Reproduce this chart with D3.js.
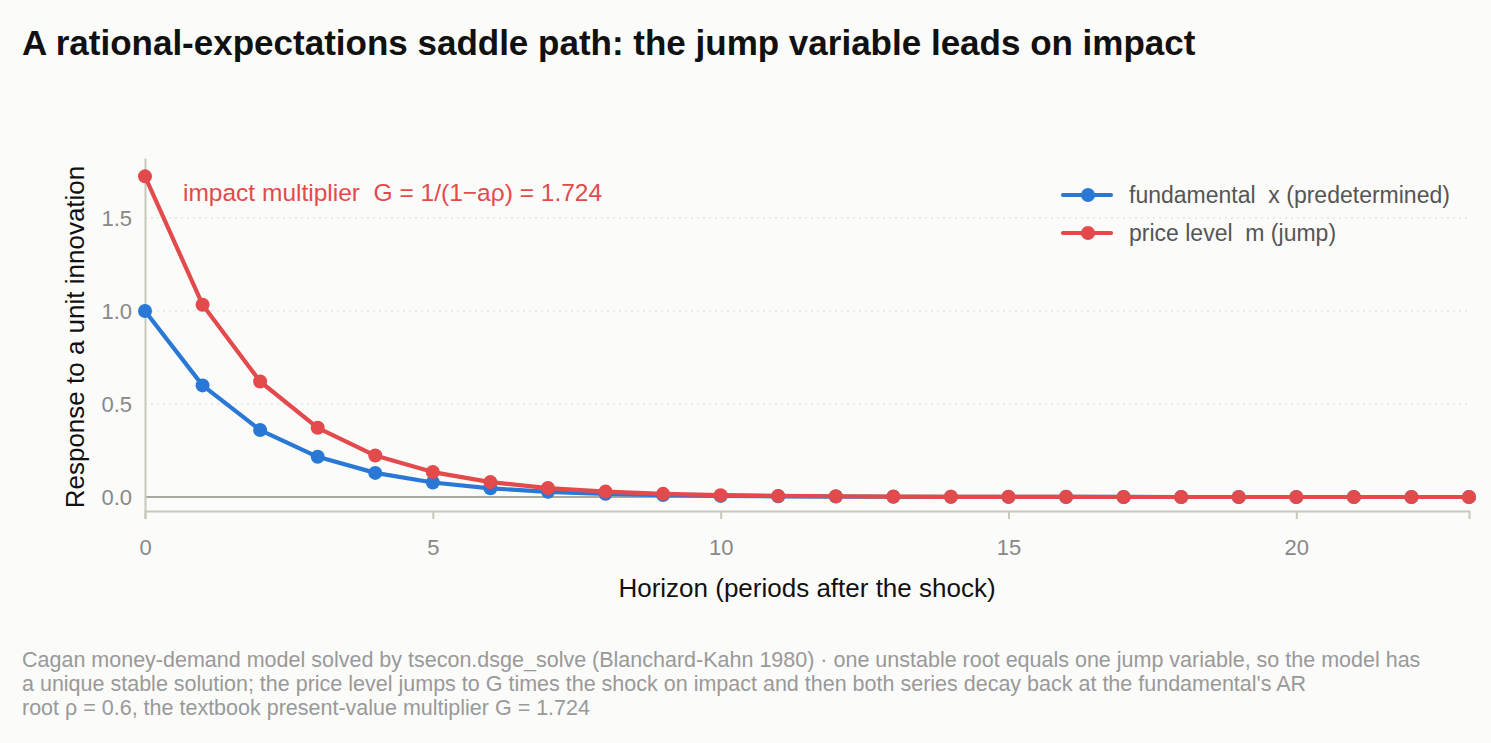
<!DOCTYPE html>
<html><head><meta charset="utf-8">
<script src="https://cdn.jsdelivr.net/npm/d3@7"></script>
<style>
html,body{margin:0;padding:0;background:#fbfbf9;}
svg{display:block;font-family:"Liberation Sans",Arial,Helvetica,sans-serif;}
text{white-space:pre;}
</style></head>
<body><svg id="c" width="1491" height="743"></svg>
<script>
const horizons = d3.range(0, 24);
const fundamentalX = [1.0, 0.6, 0.36, 0.216, 0.1296, 0.0778, 0.0467, 0.028, 0.0168, 0.0101, 0.006, 0.0036, 0.0022, 0.0013, 0.0008, 0.0005, 0.0003, 0.0002, 0.0001, 0.0001, 0.0, 0.0, 0.0, 0.0];
const priceM = [1.724, 1.034, 0.621, 0.372, 0.223, 0.134, 0.080, 0.048, 0.029, 0.017, 0.010, 0.006, 0.004, 0.002, 0.001, 0.001, 0.001, 0.0, 0.0, 0.0, 0.0, 0.0, 0.0, 0.0];
const xTicks = [0, 5, 10, 15, 20];
const yTicks = [0.0, 0.5, 1.0, 1.5];
const seriesNames = ["fundamental  x (predetermined)", "price level  m (jump)"];
const seriesColors = ["#2a78d6", "#e24a4c"];

const svg = d3.select("#c");
const L = 145, R = 1469, T = 158, B = 511;
const x = d3.scaleLinear().domain([0, 23]).range([L, R]);
const y = d3.scaleLinear().domain([-0.0753, 1.8226]).range([B, T]);

svg.append("text").attr("x", 22).attr("y", 55).attr("font-size", 35).attr("font-weight", "bold").attr("fill", "#111")
  .text("A rational-expectations saddle path: the jump variable leads on impact");

// grid
svg.append("g").selectAll("line").data(yTicks.filter(d => d > 0)).join("line")
  .attr("x1", L).attr("x2", R).attr("y1", d => y(d)).attr("y2", d => y(d))
  .attr("stroke", "#d8d8d2").attr("stroke-width", 1.2).attr("stroke-dasharray", "2,4");

// zero line
svg.append("line").attr("x1", L).attr("x2", R).attr("y1", y(0)).attr("y2", y(0)).attr("stroke", "#a9a9a0").attr("stroke-width", 2);

// axes
const xAxis = svg.append("g").attr("transform", `translate(0,${B})`)
  .call(d3.axisBottom(x).tickValues(xTicks).tickSize(8).tickPadding(20).tickFormat(d3.format("d")));
xAxis.select(".domain").attr("stroke", "#c8c8bc").attr("stroke-width", 2);
xAxis.selectAll(".tick line").attr("stroke", "#c8c8bc").attr("stroke-width", 2);
xAxis.selectAll(".tick text").attr("fill", "#888").attr("font-size", 22).attr("font-family", "Liberation Sans,Arial,sans-serif");

const yAxis = svg.append("g").attr("transform", `translate(${L},0)`)
  .call(d3.axisLeft(y).tickValues(yTicks).tickSize(0).tickPadding(13).tickFormat(d3.format(".1f")));
yAxis.select(".domain").attr("stroke", "#c8c8bc").attr("stroke-width", 2);
yAxis.selectAll(".tick text").attr("fill", "#888").attr("font-size", 22).attr("font-family", "Liberation Sans,Arial,sans-serif");

// axis labels
svg.append("text").attr("x", 807).attr("y", 597).attr("text-anchor", "middle").attr("font-size", 26).attr("fill", "#111")
  .text("Horizon (periods after the shock)");
svg.append("text").attr("transform", `translate(84,337) rotate(-90)`).attr("text-anchor", "middle").attr("font-size", 26).attr("fill", "#111")
  .text("Response to a unit innovation");

// series
const series = [fundamentalX, priceM];
const line = d3.line().x((d, i) => x(horizons[i])).y(d => y(d));
series.forEach((vals, k) => {
  const g = svg.append("g");
  g.append("path").datum(vals).attr("d", line).attr("fill", "none").attr("stroke", seriesColors[k]).attr("stroke-width", 4.2).attr("stroke-linejoin", "round");
  g.selectAll("circle").data(vals).join("circle").attr("cx", (d, i) => x(horizons[i])).attr("cy", d => y(d)).attr("r", 7).attr("fill", seriesColors[k]);
});

// annotation
svg.append("text").attr("x", 183).attr("y", 201).attr("font-size", 24.5).attr("fill", "#e24a4c")
  .text("impact multiplier  G = 1/(1\u2212a\u03c1) = 1.724");

// legend
seriesNames.forEach((n, k) => {
  const yy = 195 + k * 38;
  svg.append("line").attr("x1", 1063).attr("x2", 1111).attr("y1", yy).attr("y2", yy).attr("stroke", seriesColors[k]).attr("stroke-width", 4.2).attr("stroke-linecap", "round");
  svg.append("circle").attr("cx", 1088).attr("cy", yy).attr("r", 7).attr("fill", seriesColors[k]);
  svg.append("text").attr("x", 1129).attr("y", yy + 8).attr("font-size", 23).attr("fill", "#555").text(n);
});

// caption
const caption = [
  "Cagan money-demand model solved by tsecon.dsge_solve (Blanchard-Kahn 1980) \u00b7 one unstable root equals one jump variable, so the model has",
  "a unique stable solution; the price level jumps to G times the shock on impact and then both series decay back at the fundamental's AR",
  "root \u03c1 = 0.6, the textbook present-value multiplier G = 1.724"
];
svg.append("g").selectAll("text").data(caption).join("text")
  .attr("x", 22).attr("y", (d, i) => 667 + i * 24).attr("font-size", 21.5).attr("fill", "#999").text(d => d);
</script></body></html>
